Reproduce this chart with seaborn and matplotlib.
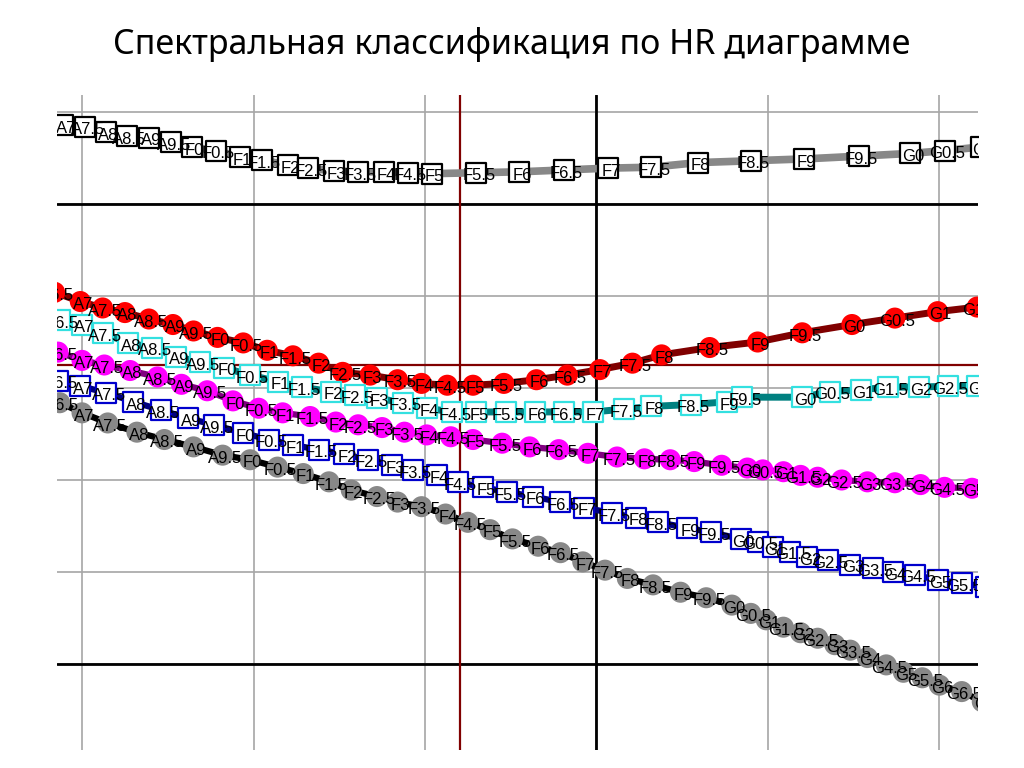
import matplotlib
matplotlib.use("Agg")
import matplotlib.pyplot as plt
import seaborn as sns
import pandas as pd

title = "Спектральная классификация по HR диаграмме"

# spectral sub-classes along every track
classes = ["A6.5", "A7", "A7.5", "A8", "A8.5", "A9", "A9.5",
           "F0", "F0.5", "F1", "F1.5", "F2", "F2.5", "F3", "F3.5", "F4", "F4.5",
           "F5", "F5.5", "F6", "F6.5", "F7", "F7.5", "F8", "F8.5", "F9", "F9.5",
           "G0", "G0.5", "G1", "G1.5", "G2", "G2.5", "G3", "G3.5", "G4", "G4.5",
           "G5", "G5.5", "G6", "G6.5", "G7"]

# track 1 (grey line, open squares), starts at A7
s1_x = [-0.11, 0.02, 0.14, 0.26, 0.39, 0.52, 0.64, 0.78, 0.92, 1.05, 1.20, 1.32, 1.47,
        1.61, 1.76, 1.90, 2.04, 2.30, 2.55, 2.81, 3.07, 3.32, 3.59, 3.90, 4.21, 4.53,
        4.83, 5.03, 5.24]
s1_y = [5.86, 5.84, 5.78, 5.74, 5.72, 5.67, 5.62, 5.58, 5.51, 5.48, 5.42, 5.39, 5.36,
        5.35, 5.35, 5.34, 5.33, 5.34, 5.35, 5.37, 5.39, 5.40, 5.45, 5.47, 5.49, 5.52,
        5.55, 5.58, 5.62]

# track 2 (dark red line, red circles)
s2_x = [-0.16, -0.01, 0.12, 0.25, 0.39, 0.53, 0.65, 0.79, 0.94, 1.08, 1.23, 1.38, 1.52,
        1.68, 1.84, 1.98, 2.13, 2.28, 2.46, 2.65, 2.83, 3.02, 3.21, 3.38, 3.66, 3.94,
        4.20, 4.49, 4.74, 4.99, 5.22]
s2_y = [4.04, 3.94, 3.87, 3.82, 3.75, 3.69, 3.62, 3.55, 3.49, 3.41, 3.35, 3.27, 3.17,
        3.14, 3.09, 3.05, 3.03, 3.03, 3.05, 3.09, 3.14, 3.20, 3.27, 3.36, 3.44, 3.50,
        3.60, 3.69, 3.76, 3.83, 3.88]

# track 3 (teal line, cyan open squares)
s3_x = [-0.13, 0.00, 0.12, 0.27, 0.41, 0.55, 0.69, 0.83, 0.98, 1.14, 1.28, 1.45, 1.59,
        1.72, 1.87, 2.01, 2.16, 2.30, 2.47, 2.64, 2.81, 2.98, 3.16, 3.32, 3.55, 3.76,
        3.85, 4.20, 4.36, 4.54, 4.70, 4.88, 5.05, 5.22]
s3_y = [3.74, 3.69, 3.60, 3.49, 3.44, 3.34, 3.28, 3.22, 3.14, 3.07, 3.01, 2.96, 2.92,
        2.89, 2.84, 2.78, 2.74, 2.74, 2.74, 2.74, 2.74, 2.74, 2.77, 2.80, 2.82, 2.85,
        2.90, 2.90, 2.96, 2.98, 3.01, 3.01, 3.02, 3.02]

# track 4 (purple line, magenta circles)
s4_x = [-0.14, 0.00, 0.13, 0.28, 0.44, 0.58, 0.73, 0.88, 1.03, 1.17, 1.33, 1.48, 1.61,
        1.75, 1.88, 2.01, 2.15, 2.28, 2.45, 2.61, 2.78, 2.95, 3.12, 3.28, 3.43, 3.57,
        3.73, 3.88, 3.97, 4.09, 4.19, 4.29, 4.43, 4.58, 4.74, 4.89, 5.03, 5.19]
s4_y = [3.39, 3.30, 3.25, 3.19, 3.12, 3.04, 2.97, 2.86, 2.78, 2.73, 2.69, 2.63, 2.60,
        2.57, 2.52, 2.49, 2.47, 2.44, 2.40, 2.36, 2.33, 2.29, 2.25, 2.23, 2.22, 2.20,
        2.16, 2.13, 2.11, 2.09, 2.05, 2.03, 2.00, 1.98, 1.97, 1.95, 1.92, 1.91]

# track 5 (navy line, blue open squares)
s5_x = [-0.14, -0.01, 0.14, 0.30, 0.46, 0.62, 0.77, 0.94, 1.09, 1.23, 1.38, 1.53, 1.67,
        1.81, 1.93, 2.07, 2.19, 2.34, 2.48, 2.63, 2.79, 2.93, 3.09, 3.23, 3.36, 3.53,
        3.67, 3.84, 3.94, 4.03, 4.13, 4.23, 4.35, 4.48, 4.61, 4.73, 4.86, 4.99, 5.13, 5.27]
s5_y = [3.08, 3.02, 2.95, 2.85, 2.76, 2.67, 2.60, 2.51, 2.44, 2.38, 2.33, 2.28, 2.22,
        2.16, 2.11, 2.05, 1.98, 1.92, 1.87, 1.82, 1.76, 1.70, 1.64, 1.59, 1.54, 1.48,
        1.43, 1.36, 1.33, 1.27, 1.22, 1.16, 1.13, 1.08, 1.04, 1.00, 0.97, 0.91, 0.88, 0.84]

# track 6 (black line, grey circles)
s6_x = [-0.13, 0.00, 0.15, 0.32, 0.48, 0.65, 0.82, 0.98, 1.14, 1.29, 1.44, 1.57, 1.72,
        1.84, 1.98, 2.12, 2.25, 2.38, 2.51, 2.66, 2.79, 2.92, 3.05, 3.18, 3.33, 3.49,
        3.64, 3.79, 3.90, 3.99, 4.09, 4.19, 4.29, 4.39, 4.48, 4.58, 4.69, 4.79, 4.90,
        5.00, 5.13, 5.25]
s6_y = [2.84, 2.73, 2.62, 2.52, 2.44, 2.36, 2.27, 2.22, 2.14, 2.07, 1.98, 1.89, 1.82,
        1.76, 1.71, 1.63, 1.54, 1.46, 1.36, 1.28, 1.21, 1.11, 1.02, 0.93, 0.86, 0.78,
        0.72, 0.64, 0.55, 0.48, 0.40, 0.34, 0.28, 0.21, 0.15, 0.07, -0.01, -0.09, -0.15,
        -0.23, -0.30, -0.41]

tracks = [
    dict(x=s1_x, y=s1_y, first="A7", line="#888888", lw=5.5, marker="s", face="white", edge="black", s=190),
    dict(x=s2_x, y=s2_y, first="A6.5", line="#800000", lw=5.0, marker="o", face="#ff0000", edge="none", s=230),
    dict(x=s3_x, y=s3_y, first="A6.5", line="#008080", lw=5.0, marker="s", face="white", edge="#33e0e0", s=190),
    dict(x=s4_x, y=s4_y, first="A6.5", line="#800080", lw=4.5, marker="o", face="#ff00ff", edge="none", s=230),
    dict(x=s5_x, y=s5_y, first="A6.5", line="#000080", lw=4.5, marker="s", face="white", edge="#0000cc", s=190),
    dict(x=s6_x, y=s6_y, first="A6.5", line="black", lw=4.5, marker="o", face="#888888", edge="none", s=230),
]

sns.set_theme(style="white")
plt.rcParams['font.family'] = ['Liberation Sans Narrow', 'Liberation Sans', 'DejaVu Sans']
plt.rcParams['text.color'] = 'black'

fig = plt.figure(figsize=(10.24, 7.68), dpi=100)
ax = fig.add_axes([57 / 1024, 18 / 768, 921 / 1024, 655 / 768])

ax.set_xlim(-0.146, 5.225)
ax.set_ylim(-0.935, 6.185)
ax.set_xticks(range(0, 6))
ax.set_yticks(range(0, 7))
ax.grid(True, color="#a6a6a6", lw=1.2, zorder=0)
ax.tick_params(length=0, labelbottom=False, labelleft=False)
for sp in ax.spines.values():
    sp.set_visible(False)

# reference lines
ax.axvline(3, color="black", lw=2, zorder=1)
ax.axhline(0, color="black", lw=2, zorder=1)
ax.axhline(5, color="black", lw=2, zorder=1)
ax.axvline(2.204, color="#800000", lw=1.6, zorder=1)
ax.axhline(3.25, color="#800000", lw=1.6, zorder=1)

for i, t in enumerate(tracks):
    start = classes.index(t["first"])
    df = pd.DataFrame({"x": t["x"], "y": t["y"],
                       "cls": classes[start:start + len(t["x"])]})
    sns.lineplot(data=df, x="x", y="y", sort=False, estimator=None, color=t["line"],
                 lw=t["lw"], ax=ax, zorder=2 + i * 0.1)
    sns.scatterplot(data=df, x="x", y="y", marker=t["marker"], s=t["s"], color=t["face"],
                    edgecolor=t["edge"], linewidth=1.6, ax=ax, zorder=3 + i * 0.1)
    for _, r in df.iterrows():
        ax.text(r["x"] + 0.015, r["y"] - 0.035, r["cls"], ha="center", va="center",
                fontsize=12, color="black", clip_on=True, zorder=5)

ax.set_xlabel("")
ax.set_ylabel("")

fig.text(0.5, 1 - 45 / 768, title, ha="center", va="center", fontsize=24.5,
         color="black", family=["Noto Sans", "DejaVu Sans"])

fig.savefig("out.png", dpi=100)
